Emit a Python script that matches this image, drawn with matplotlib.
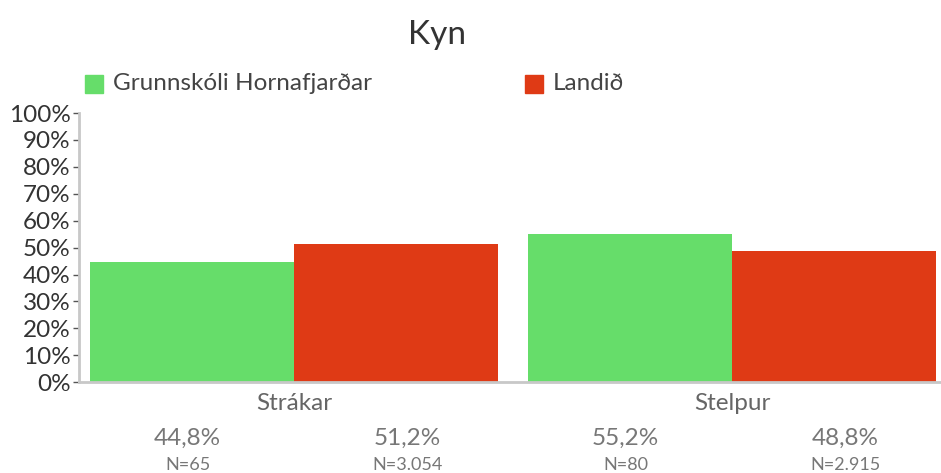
import numpy as np
import matplotlib
matplotlib.use("Agg")
import matplotlib.pyplot as plt

plt.rcParams['font.family'] = ['Lato', 'DejaVu Sans']

# gögn
categories = ["Strákar", "Stelpur"]
series_names = ["Grunnskóli Hornafjarðar", "Landið"]
school_pct = [44.8, 55.2]
country_pct = [51.2, 48.8]
school_n = ["N=65", "N=80"]
country_n = ["N=3.054", "N=2.915"]
yticks = np.arange(0, 101, 10)

GREEN = "#66dd6a"
RED = "#df3a15"

fig = plt.figure(figsize=(9.41, 4.73), dpi=100)
ax = fig.add_axes([0.084, 0.192, 0.916, 0.569])

x = np.arange(len(categories))
w = 0.466
ax.bar(x - w / 2, school_pct, width=w, color=GREEN, linewidth=0)
ax.bar(x + w / 2, country_pct, width=w, color=RED, linewidth=0)

ax.set_xlim(-0.491, 1.477)
ax.set_ylim(0, 100)
ax.set_yticks(yticks)
ax.set_yticklabels([f"{v}%" for v in yticks], fontsize=17.5, color="#333333")
ax.tick_params(axis='y', length=4, width=1, color="#555555", pad=2)
ax.set_xticks([])

for s in ["top", "right"]:
    ax.spines[s].set_visible(False)
for s in ["left", "bottom"]:
    ax.spines[s].set_color("#c8c8c8")
    ax.spines[s].set_linewidth(2)

# flokkar og gildi undir ásnum
trans = matplotlib.transforms.blended_transform_factory(ax.transData, fig.transFigure)
for i, cat in enumerate(categories):
    ax.text(x[i], 1 - 403 / 473, cat, transform=trans, ha="center", va="center",
            fontsize=17.5, color="#666666")
    for vals, ns, off in [(school_pct, school_n, -w / 2 - 0.01), (country_pct, country_n, w / 2 + 0.025)]:
        lbl = f"{vals[i]:.1f}%".replace(".", ",")
        ax.text(x[i] + off, 1 - 438 / 473, lbl, transform=trans, ha="center", va="center",
                fontsize=17.5, color="#777777")
        ax.text(x[i] + off, 1 - 465 / 473, ns[i], transform=trans, ha="center", va="center",
                fontsize=13, color="#777777")

fig.text(437 / 941, 1 - 35 / 473, "Kyn", ha="center", va="center", fontsize=24, color="#333333")

# skýringar
for name, col, px in [(series_names[0], GREEN, 85), (series_names[1], RED, 525)]:
    fig.patches.append(matplotlib.patches.Rectangle((px / 941, 1 - 93 / 473), 18 / 941, 18 / 473,
                                                    transform=fig.transFigure, color=col))
    fig.text((px + 28) / 941, 1 - 84 / 473, name, ha="left", va="center", fontsize=17.5, color="#444444")

fig.savefig("out.png", dpi=100)
